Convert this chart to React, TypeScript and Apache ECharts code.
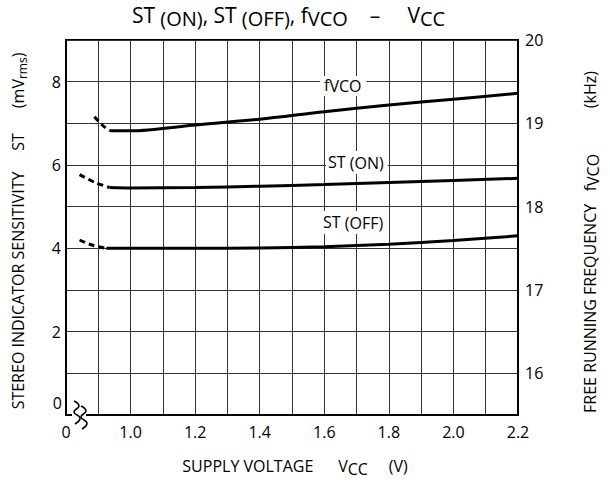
import React, { useEffect, useRef } from 'react';
import * as echarts from 'echarts';

// Supply voltage (V) and curve values
const fvcoX = [0.935, 1.0, 1.2, 1.4, 1.6, 1.8, 2.0, 2.2];
const fvcoY = [18.91, 18.91, 18.98, 19.05, 19.14, 19.22, 19.29, 19.36];
const fvcoDashX = [0.888, 0.912, 0.935];
const fvcoDashY = [19.08, 18.98, 18.91];

const stOnX = [0.935, 1.0, 1.2, 1.4, 1.6, 1.8, 2.0, 2.2];
const stOnY = [5.46, 5.45, 5.46, 5.49, 5.53, 5.58, 5.63, 5.68];
const stOnDashX = [0.842, 0.89, 0.935];
const stOnDashY = [5.77, 5.58, 5.46];

const stOffX = [0.925, 1.0, 1.2, 1.4, 1.6, 1.8, 2.0, 2.2];
const stOffY = [4.0, 4.0, 4.0, 4.01, 4.04, 4.1, 4.19, 4.3];
const stOffDashX = [0.842, 0.88, 0.925];
const stOffDashY = [4.2, 4.08, 4.0];

const FONT = '"Open Sans", "DejaVu Sans", sans-serif';
const NB = (n: number) => '\u00a0'.repeat(n);

const pairs = (xs: number[], ys: number[]) => xs.map((x, i) => [x, ys[i]]);

export default function App() {
  const ref = useRef<HTMLDivElement>(null);
  useEffect(() => {
    if (!ref.current) return;
    const chart = echarts.init(ref.current, null, { renderer: 'svg' });

    const solid = { color: '#000', width: 3, type: 'solid' as const };
    const dashed = { color: '#000', width: 3, type: [6, 4] as any };

    const richNormal = (size: number, lh: number) => ({
      fontSize: size, fontFamily: FONT, color: '#000', lineHeight: lh, verticalAlign: 'top',
    });
    const richSub = (size: number, lh: number, off: number) => ({
      fontSize: size, fontFamily: FONT, color: '#000', lineHeight: lh, verticalAlign: 'bottom', padding: [off, 0, 0, 0],
    });

    const option: any = {
      animation: false,
      grid: { left: 66, top: 40, width: 452, height: 375, show: true, borderColor: '#000', borderWidth: 2, backgroundColor: 'transparent' },
      xAxis: {
        type: 'value', min: 0.8, max: 2.2, interval: 0.1,
        axisLine: { show: true, lineStyle: { color: '#000', width: 2 } },
        axisTick: { show: false },
        splitLine: { show: true, lineStyle: { color: '#333', width: 1 } },
        axisLabel: {
          color: '#000', fontSize: 16, fontFamily: FONT, margin: 9, showMinLabel: true, showMaxLabel: true,
          formatter: (v: number) => {
            const k = Math.round(v * 10);
            if (k === 8) return '0';
            if (k % 2 === 0) return (k / 10).toFixed(1);
            return '';
          },
        },
      },
      yAxis: [
        {
          type: 'value', min: 0, max: 9, interval: 1, position: 'left',
          axisLine: { show: true, lineStyle: { color: '#000', width: 2 } },
          axisTick: { show: false },
          splitLine: { show: true, lineStyle: { color: '#333', width: 1 } },
          axisLabel: {
            color: '#000', fontSize: 16, fontFamily: FONT, margin: 5,
            formatter: (v: number) => (v > 0 && Math.round(v) % 2 === 0 ? String(Math.round(v)) : ''),
          },
        },
        {
          type: 'value', min: 15.5, max: 20, interval: 0.5, position: 'right',
          axisLine: { show: true, lineStyle: { color: '#000', width: 2 } },
          axisTick: { show: false },
          splitLine: { show: false },
          axisLabel: {
            color: '#000', fontSize: 16, fontFamily: FONT, margin: 7,
            formatter: (v: number) => (Math.abs(v - Math.round(v)) < 1e-6 ? String(Math.round(v)) : ''),
          },
        },
      ],
      series: [
        { type: 'line', yAxisIndex: 1, data: pairs(fvcoX, fvcoY), smooth: 0.3, symbol: 'none', lineStyle: solid },
        { type: 'line', yAxisIndex: 1, data: pairs(fvcoDashX, fvcoDashY), smooth: 0.3, symbol: 'none', lineStyle: dashed },
        { type: 'line', yAxisIndex: 0, data: pairs(stOnX, stOnY), smooth: 0.3, symbol: 'none', lineStyle: solid },
        { type: 'line', yAxisIndex: 0, data: pairs(stOnDashX, stOnDashY), smooth: 0.3, symbol: 'none', lineStyle: dashed },
        { type: 'line', yAxisIndex: 0, data: pairs(stOffX, stOffY), smooth: 0.3, symbol: 'none', lineStyle: solid },
        { type: 'line', yAxisIndex: 0, data: pairs(stOffDashX, stOffDashY), smooth: 0.3, symbol: 'none', lineStyle: dashed },
      ],
      graphic: [
        // title
        {
          type: 'text', left: 132, top: 1, z: 10,
          style: {
            text: '{n|ST}{s| (ON)}{n|, ST}{s| (OFF)}{n|, f}{s|VCO}{n|' + NB(4) + '\u2013' + NB(5) + 'V}{s|CC}',
            rich: { n: richNormal(21, 24), s: richSub(20, 24, 7) },
          },
        },
        // y-axis zero label
        { type: 'text', x: 62, y: 403, z: 10, style: { text: '0', font: '16px ' + FONT, fill: '#000', align: 'right', verticalAlign: 'middle' } },
        // axis break
        { type: 'rect', shape: { x: 72, y: 411, width: 14, height: 8 }, style: { fill: '#fff' }, z: 20 },
        {
          type: 'polyline', z: 21,
          shape: { points: [[74, 401], [79, 406], [74, 412], [80, 418], [75, 424]], smooth: 0.5 },
          style: { stroke: '#000', lineWidth: 1.6, fill: 'none' },
        },
        {
          type: 'polyline', z: 21,
          shape: { points: [[81, 406], [86, 411], [81, 417], [87, 423], [82, 429]], smooth: 0.5 },
          style: { stroke: '#000', lineWidth: 1.6, fill: 'none' },
        },
        // curve labels
        {
          type: 'text', x: 320, y: 76, z: 10,
          style: {
            text: '{n|f}{s|VCO}', backgroundColor: '#fff', padding: [1, 5, 2, 4],
            rich: { n: richNormal(16, 17), s: richSub(16, 17, 5) },
          },
        },
        {
          type: 'text', x: 326, y: 151, z: 10,
          style: {
            text: '{n|ST}{s| (ON)}', backgroundColor: '#fff', padding: [3, 4, 3, 2],
            rich: { n: richNormal(16, 17), s: richSub(16, 17, 4) },
          },
        },
        {
          type: 'text', x: 321, y: 211, z: 10,
          style: {
            text: '{n|ST}{s| (OFF)}', backgroundColor: '#fff', padding: [3, 4, 3, 2],
            rich: { n: richNormal(16, 17), s: richSub(16, 17, 5) },
          },
        },
        // axis names
        {
          type: 'text', x: 19, y: 231, rotation: Math.PI / 2, z: 10,
          style: {
            text: '{n|STEREO INDICATOR SENSITIVITY' + NB(5) + 'ST' + NB(6) + '(mV}{s|rms}{n|)}',
            align: 'center', verticalAlign: 'middle',
            rich: { n: richNormal(16, 19), s: richSub(12, 19, 6) },
          },
        },
        {
          type: 'text', x: 591, y: 242, rotation: Math.PI / 2, z: 10,
          style: {
            text: '{n|FREE RUNNING FREQUENCY' + NB(3) + 'f}{s|VCO}{n|' + NB(11) + '(kHz)}',
            align: 'center', verticalAlign: 'middle',
            rich: { n: richNormal(16, 19), s: richSub(16, 19, 5) },
          },
        },
        {
          type: 'text', x: 295, y: 467, z: 10,
          style: {
            text: '{n|SUPPLY VOLTAGE' + NB(6) + 'V}{s|CC}{n|' + NB(5) + '(V)}',
            align: 'center', verticalAlign: 'middle',
            rich: { n: richNormal(16, 19), s: richSub(16, 19, 5) },
          },
        },
      ],
    };
    chart.setOption(option);
    return () => chart.dispose();
  }, []);
  return <div ref={ref} style={{ position: 'fixed', left: 0, top: 0, width: 610, height: 482, background: '#fff' }} />;
}
